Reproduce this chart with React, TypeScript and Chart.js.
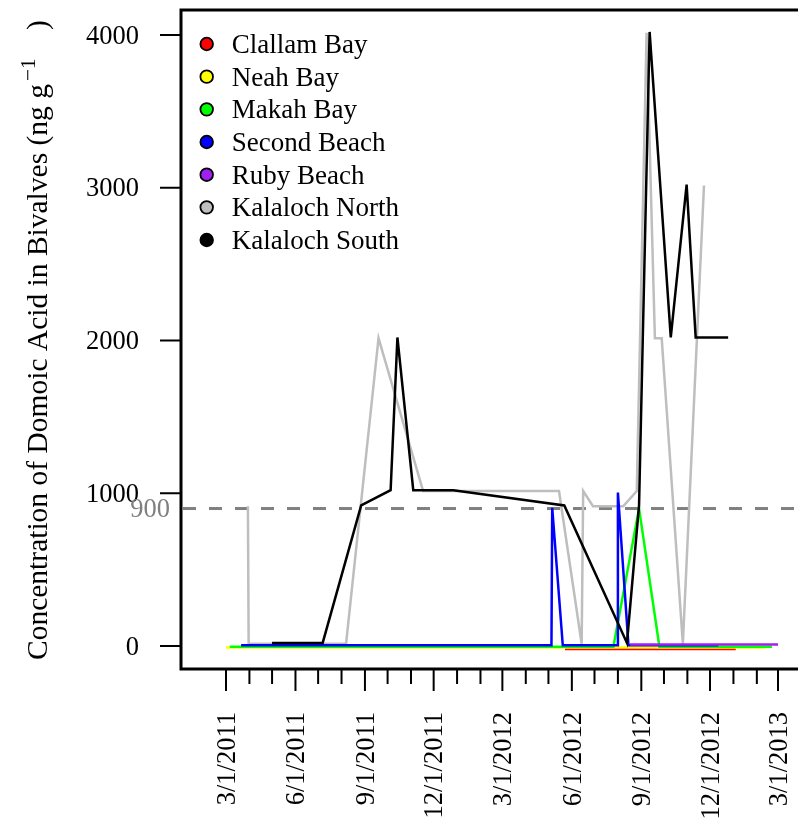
import React, { useEffect, useRef } from "react";
import { Chart, registerables } from "chart.js";
Chart.register(...registerables);

// ---------- data ----------
const seriesNames = ["Clallam Bay", "Neah Bay", "Makah Bay", "Second Beach", "Ruby Beach", "Kalaloch North", "Kalaloch South"];
const seriesColors = ["#FF0000", "#FFFF00", "#00FF00", "#0000FF", "#A020F0", "#BEBEBE", "#000000"];

const clallamDates = ["2012-05-23", "2013-01-04"];
const clallamValues = [-20, -20];

const neahDates = ["2011-03-01", "2013-02-12"];
const neahValues = [-10, -10];

const makahDates = ["2011-03-06", "2012-07-26", "2012-08-29", "2012-09-25", "2013-02-21"];
const makahValues = [-5, -5, 900, -5, -5];

const secondDates = ["2011-03-21", "2012-05-05", "2012-05-06", "2012-05-20", "2012-07-31", "2012-08-01", "2012-08-15", "2012-12-12"];
const secondValues = [5, 5, 905, 5, 5, 1005, 5, 5];

const rubyDates = ["2012-08-17", "2013-03-01"];
const rubyValues = [10, 10];

const kNorthDates = ["2011-03-30", "2011-03-31", "2011-08-07", "2011-09-19", "2011-11-17", "2012-05-15", "2012-06-14", "2012-06-16", "2012-06-29", "2012-08-08", "2012-08-26", "2012-09-08", "2012-09-19", "2012-09-28", "2012-10-26", "2012-11-23"];
const kNorthValues = [915, 15, 15, 2015, 1015, 1015, 15, 1015, 915, 915, 1015, 4015, 2015, 2015, 15, 3015];

const kSouthDates = ["2011-05-01", "2011-07-07", "2011-08-27", "2011-10-05", "2011-10-14", "2011-11-04", "2011-12-27", "2012-05-22", "2012-08-13", "2012-08-29", "2012-09-12", "2012-10-10", "2012-10-31", "2012-11-12", "2012-12-25"];
const kSouthValues = [20, 20, 920, 1020, 2020, 1020, 1020, 920, 20, 920, 4020, 2020, 3020, 2020, 2020];

const seriesDates = [clallamDates, neahDates, makahDates, secondDates, rubyDates, kNorthDates, kSouthDates];
const seriesValues = [clallamValues, neahValues, makahValues, secondValues, rubyValues, kNorthValues, kSouthValues];
// drawing order: higher drawn first (underneath)
const seriesOrder = [5, 4, 3, 2, 1, 6, 0];

const yTickValues = [0, 1000, 2000, 3000, 4000];
const thresholdValue = 900;
const thresholdLabel = "900";

const monthTicks = [
  "2011-03-01", "2011-04-01", "2011-05-01", "2011-06-01", "2011-07-01", "2011-08-01", "2011-09-01",
  "2011-10-01", "2011-11-01", "2011-12-01", "2012-01-01", "2012-02-01", "2012-03-01", "2012-04-01",
  "2012-05-01", "2012-06-01", "2012-07-01", "2012-08-01", "2012-09-01", "2012-10-01", "2012-11-01",
  "2012-12-01", "2013-01-01", "2013-02-01", "2013-03-01",
];
const majorTickLabels = ["3/1/2011", "6/1/2011", "9/1/2011", "12/1/2011", "3/1/2012", "6/1/2012", "9/1/2012", "12/1/2012", "3/1/2013"];

const yTitleMain = "Concentration of Domoic Acid in Bivalves (ng g";
const yTitleSup = "\u22121";
const yTitleTail = ")";

// ---------- helpers ----------
const EPOCH = Date.UTC(2011, 0, 1);
const toDay = (iso: string) => {
  const [y, m, d] = iso.split("-").map(Number);
  return (Date.UTC(y, m - 1, d) - EPOCH) / 86400000;
};
const labelToDay = (lbl: string) => {
  const [m, d, y] = lbl.split("/").map(Number);
  return (Date.UTC(y, m - 1, d) - EPOCH) / 86400000;
};

const X_MIN = -0.6;
const X_MAX = 816.5;
const Y_MIN = -150.6;
const Y_MAX = 4163.7;

const FONT = "'Liberation Serif', 'Times New Roman', Times, serif";
const FS = 26.5;

const overlay = {
  id: "overlay",
  beforeDatasetsDraw(chart: any) {
    const { ctx, chartArea, scales } = chart;
    const py = scales.y.getPixelForValue(thresholdValue);
    ctx.save();
    ctx.beginPath();
    ctx.rect(chartArea.left, chartArea.top, chartArea.right - chartArea.left, chartArea.bottom - chartArea.top);
    ctx.clip();
    ctx.strokeStyle = "#808080";
    ctx.lineWidth = 3;
    ctx.setLineDash([13, 13]);
    ctx.beginPath();
    ctx.moveTo(chartArea.left + 2, py);
    ctx.lineTo(chartArea.right + 20, py);
    ctx.stroke();
    ctx.restore();
  },
  afterDraw(chart: any) {
    const { ctx, chartArea, scales } = chart;
    const xs = scales.x;
    const ys = scales.y;
    const L = chartArea.left, T = chartArea.top, B = chartArea.bottom, R = chartArea.right;
    ctx.save();
    // box (open on the right, clipped)
    ctx.strokeStyle = "#000";
    ctx.lineWidth = 3;
    ctx.lineJoin = "miter";
    ctx.beginPath();
    ctx.moveTo(R + 10, T);
    ctx.lineTo(L, T);
    ctx.lineTo(L, B);
    ctx.lineTo(R + 10, B);
    ctx.stroke();

    // y ticks + labels
    ctx.lineWidth = 2;
    ctx.fillStyle = "#000";
    ctx.font = `${FS}px ${FONT}`;
    ctx.textAlign = "right";
    ctx.textBaseline = "alphabetic";
    const capH = FS * 0.66;
    yTickValues.forEach((v) => {
      const py = ys.getPixelForValue(v);
      ctx.beginPath();
      ctx.moveTo(L - 21, py);
      ctx.lineTo(L, py);
      ctx.stroke();
      ctx.fillText(String(v), L - 42, py + capH / 2);
    });
    // threshold label
    ctx.fillStyle = "#808080";
    ctx.fillText(thresholdLabel, L - 11, ys.getPixelForValue(thresholdValue) + capH / 2);

    // x ticks
    ctx.fillStyle = "#000";
    const majorDays = majorTickLabels.map(labelToDay);
    monthTicks.forEach((iso) => {
      const d = toDay(iso);
      const px = xs.getPixelForValue(d);
      const major = majorDays.includes(d);
      ctx.beginPath();
      ctx.moveTo(px, B);
      ctx.lineTo(px, B + (major ? 22 : 15));
      ctx.stroke();
    });
    majorTickLabels.forEach((lbl) => {
      const px = xs.getPixelForValue(labelToDay(lbl));
      ctx.save();
      ctx.translate(px, B + 43);
      ctx.rotate(-Math.PI / 2);
      ctx.textAlign = "right";
      ctx.fillText(lbl, 0, capH / 2);
      ctx.restore();
    });

    // y axis title (rotated; local x = -canvas y)
    const TFS = 29.5;
    ctx.save();
    ctx.translate(47, 0);
    ctx.rotate(-Math.PI / 2);
    ctx.textAlign = "left";
    ctx.font = `${TFS}px ${FONT}`;
    ctx.fillText(yTitleMain, -660, 0);
    const mainEnd = -660 + ctx.measureText(yTitleMain).width;
    ctx.font = `${TFS * 0.72}px ${FONT}`;
    ctx.fillText(yTitleSup, mainEnd + 3, -12);
    ctx.font = `${TFS}px ${FONT}`;
    ctx.fillText(yTitleTail, -30, 0);
    ctx.restore();

    // legend
    const LFS = 27;
    ctx.font = `${LFS}px ${FONT}`;
    ctx.textAlign = "left";
    seriesNames.forEach((name, i) => {
      const cy = 44 + i * 32.67;
      ctx.beginPath();
      ctx.arc(L + 25.7, cy, 6.3, 0, Math.PI * 2);
      ctx.fillStyle = seriesColors[i];
      ctx.fill();
      ctx.lineWidth = 1.8;
      ctx.strokeStyle = "#000";
      ctx.stroke();
      ctx.fillStyle = "#000";
      ctx.fillText(name, L + 50.7, cy + (LFS * 0.66) / 2);
    });
    ctx.restore();
  },
};

export default function App() {
  const ref = useRef<HTMLCanvasElement>(null);
  useEffect(() => {
    document.body.style.margin = "0";
    document.body.style.overflow = "hidden";
    const canvas = ref.current!;
    const datasets = seriesNames.map((name, i) => ({
      label: name,
      data: seriesDates[i].map((d, j) => ({ x: toDay(d), y: seriesValues[i][j] })),
      borderColor: seriesColors[i],
      backgroundColor: seriesColors[i],
      borderWidth: 2.5,
      pointRadius: 0,
      tension: 0,
      fill: false,
      order: seriesOrder[i],
    }));
    const chart = new Chart(canvas, {
      type: "line",
      data: { datasets },
      options: {
        responsive: false,
        animation: false,
        events: [],
        layout: { padding: { top: 10, left: 0, right: 0, bottom: 0 } },
        plugins: { legend: { display: false }, tooltip: { enabled: false } },
        scales: {
          x: {
            type: "linear",
            min: X_MIN,
            max: X_MAX,
            ticks: { display: false },
            grid: { display: false },
            border: { display: false },
            afterFit: (s: any) => { s.height = 153; },
          },
          y: {
            type: "linear",
            min: Y_MIN,
            max: Y_MAX,
            ticks: { display: false },
            grid: { display: false },
            border: { display: false },
            afterFit: (s: any) => { s.width = 181; },
          },
        },
      },
      plugins: [overlay],
    } as any);
    return () => chart.destroy();
  }, []);
  return (
    <div style={{ width: 798, height: 822 }}>
      <canvas ref={ref} width={798} height={822} style={{ display: "block" }} />
    </div>
  );
}
